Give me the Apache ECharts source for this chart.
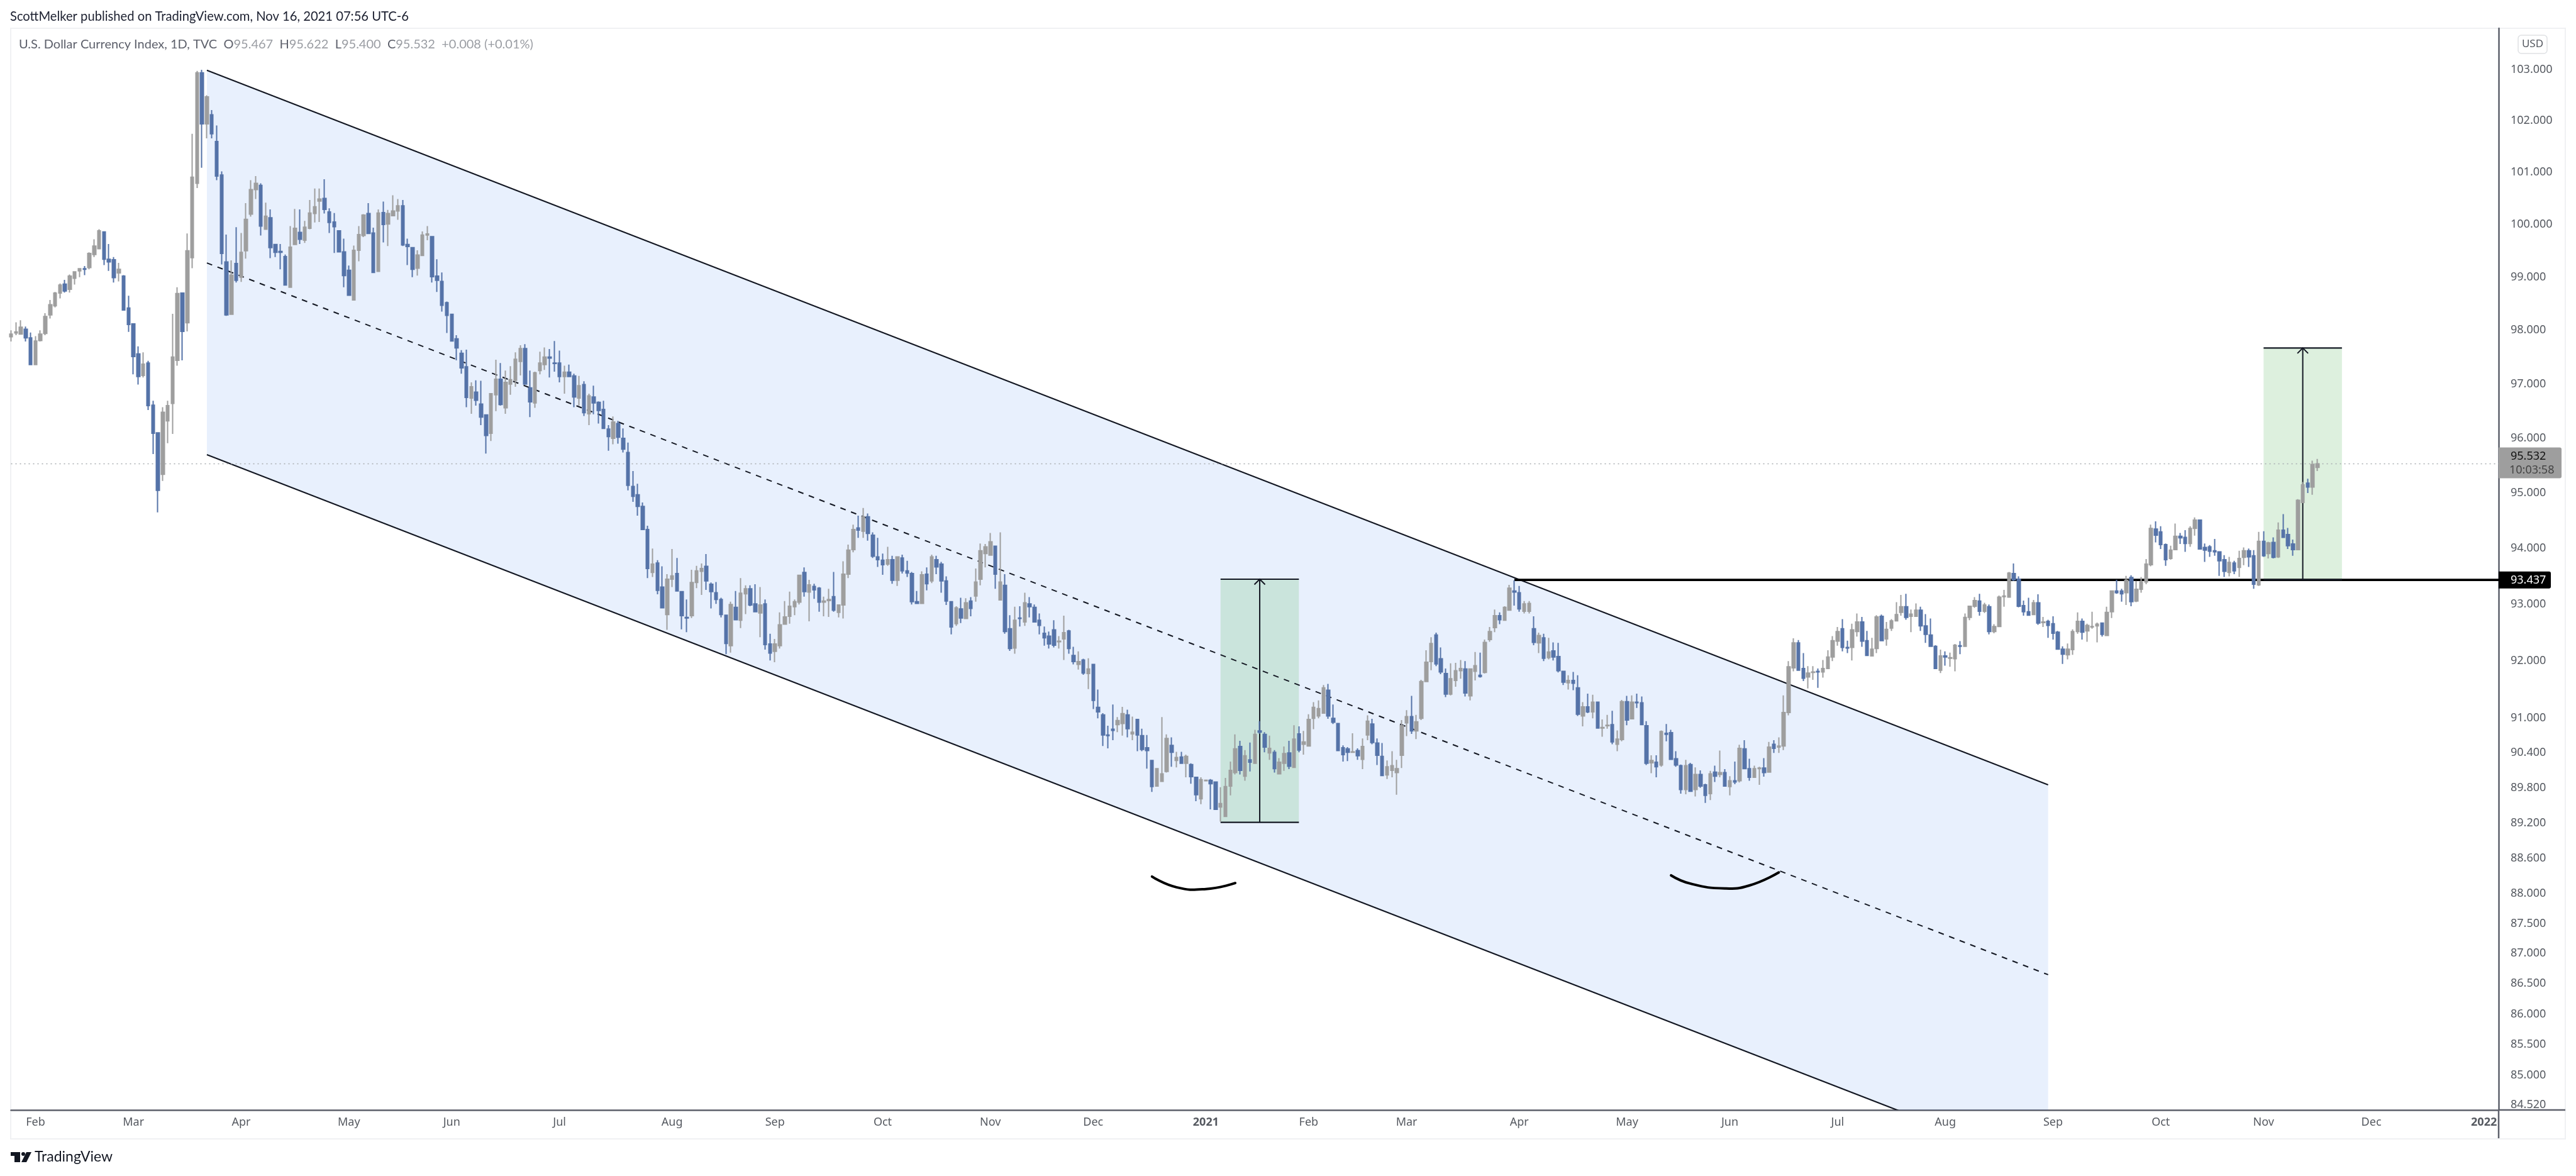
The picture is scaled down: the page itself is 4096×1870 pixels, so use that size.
<!DOCTYPE html>
<html><head><meta charset="utf-8">
<style>html,body{margin:0;padding:0;background:#fff}#c{width:4096px;height:1870px}</style>
<script src="https://cdn.jsdelivr.net/npm/echarts@6/dist/echarts.min.js"></script>
</head><body><div id="c"></div>
<script>
// [open, close, low, high]
const candlesA=[[97.88,97.93,97.79,98.0],[97.95,97.97,97.91,98.15],[97.93,98.06,97.93,98.19],[98.02,97.86,97.79,98.07],[97.86,97.36,97.36,97.96],[97.36,97.80,97.36,97.89],[97.81,97.93,97.79,98.0],[97.94,98.26,97.91,98.32],[98.29,98.48,98.22,98.57],[98.46,98.70,98.43,98.72],
[98.70,98.85,98.60,98.88],[98.87,98.74,98.71,98.95],[98.77,99.02,98.71,99.05],[98.98,99.10,98.86,99.11],[99.12,99.16,99.0,99.17],[99.16,99.15,99.04,99.21],[99.18,99.45,99.15,99.47],[99.43,99.59,99.38,99.72],[99.54,99.88,99.54,99.91],[99.86,99.34,99.23,99.87],
[99.34,99.29,99.12,99.63],[99.33,98.99,98.90,99.38],[99.08,99.15,98.92,99.27],[99.02,98.38,98.37,99.04],[98.42,98.11,97.97,98.65],[98.12,97.51,97.18,98.12],[97.56,97.14,96.99,97.70],[97.16,97.37,97.12,97.59],[97.39,96.60,96.52,97.43],[96.61,96.09,95.71,96.69],
[96.10,95.05,94.65,96.10],[95.34,96.48,95.22,96.57],[96.32,96.60,95.91,96.69],[96.64,97.50,96.08,98.31],[97.44,98.69,97.34,98.81],[98.70,97.98,97.44,98.70],[98.14,99.50,97.98,99.83],[99.37,100.91,99.17,101.75],[100.79,102.94,100.70,102.98],[102.94,101.94,101.09,103.0],
[101.94,102.47,101.66,102.5],[102.12,101.75,101.66,102.21],[101.6,100.93,100.85,101.91],[100.95,99.45,99.24,101.02],[99.29,98.29,98.27,99.81],[98.30,99.04,98.30,99.32],[99.26,98.94,98.90,99.95],[99.0,99.47,98.91,99.84],[99.50,100.10,99.35,100.41],[100.20,100.67,100.15,100.85],
[100.67,100.79,100.49,100.93],[100.75,99.97,99.79,100.79],[99.91,100.16,99.91,100.42],[100.13,99.56,99.36,100.29],[99.62,99.47,99.38,99.63],[99.49,99.47,99.15,99.63],[99.39,98.85,98.84,99.43],[98.81,99.57,98.81,99.97],[99.62,99.93,99.62,100.30],[99.85,99.72,99.63,100.29],
[99.70,99.95,99.65,100.07],[99.93,100.22,99.91,100.47],[100.21,100.34,100.04,100.69],[100.45,100.49,100.05,100.69],[100.50,100.29,100.21,100.87],[100.24,100.04,99.84,100.31],[100.05,99.96,99.46,100.22],[99.88,99.48,99.47,99.88],[99.48,99.03,98.81,99.73],[99.13,98.66,98.66,99.22],
[98.57,99.51,98.57,99.60],[99.51,99.81,99.30,99.97],[99.79,100.18,99.76,100.20],[100.21,99.83,99.82,100.41],[99.84,99.09,99.09,99.94],[99.11,100.22,99.11,100.29],[100.23,100.0,99.66,100.44],[100.01,100.21,99.59,100.28],[100.17,100.26,100.16,100.56],[100.26,100.36,100.09,100.49]];
const candlesB=[[100.36,99.61,99.59,100.47],[99.62,99.58,99.23,99.73],[99.56,99.15,99.0,99.56],[99.17,99.42,99.03,99.51],[99.41,99.80,99.40,99.87],[99.80,99.82,99.70,99.97],[99.77,99.01,98.90,99.77],[99.02,98.94,98.72,99.34],[98.92,98.47,98.35,99.09],[98.52,98.28,97.95,98.54],
[98.30,97.80,97.79,98.31],[97.84,97.67,97.44,97.91],[97.57,97.30,97.19,97.63],[97.32,96.75,96.57,97.64],[96.74,96.95,96.45,97.03],[96.85,96.70,96.60,97.07],[96.63,96.39,96.24,97.06],[96.43,96.05,95.72,96.44],[96.09,96.82,95.95,96.82],[96.80,97.09,96.50,97.45],
[97.09,96.62,96.60,97.39],[96.56,97.03,96.45,97.25],[97.0,97.08,96.80,97.33],[97.07,97.46,96.95,97.59],[97.42,97.66,97.16,97.72],[97.66,97.0,97.0,97.74],[96.93,96.67,96.39,97.25],[96.65,97.21,96.56,97.23],[97.25,97.39,97.18,97.60],[97.36,97.50,97.26,97.68],
[97.50,97.48,97.12,97.65],[97.39,97.38,97.23,97.80],[97.39,97.14,97.03,97.62],[97.14,97.22,96.82,97.34],[97.22,97.14,97.14,97.36],[97.15,96.76,96.57,97.19],[96.74,96.97,96.60,97.15],[96.99,96.47,96.41,97.05],[96.45,96.78,96.24,96.82],[96.76,96.65,96.44,96.97],
[96.66,96.51,96.27,96.68],[96.53,96.18,96.18,96.69],[96.17,96.03,95.77,96.24],[96.0,96.30,95.89,96.40],[96.27,96.02,95.90,96.32],[96.0,95.80,95.74,96.18],[95.74,95.14,95.05,95.92],[95.12,94.94,94.84,95.40],[94.97,94.76,94.59,95.17],[94.76,94.34,94.34,94.83],
[94.34,93.64,93.47,94.41],[93.57,93.72,93.49,94.0],[93.74,93.25,93.18,93.79],[93.31,92.94,92.93,93.68],[92.82,93.45,92.55,93.54],[93.45,93.51,93.31,93.99],[93.55,93.24,93.23,93.83],[93.23,92.80,92.56,93.24],[92.77,92.76,92.51,93.09],[92.80,93.39,92.76,93.62],
[93.39,93.60,93.29,93.69],[93.59,93.64,93.17,93.73],[93.68,93.42,93.26,93.90],[93.36,93.23,92.93,93.39],[93.21,93.09,93.01,93.40],[93.09,92.82,92.77,93.12],[92.81,92.31,92.12,92.81],[92.27,93.0,92.15,93.05],[92.95,92.73,92.72,93.24],[92.72,93.20,92.58,93.47],
[93.19,93.28,92.83,93.34],[93.28,92.99,92.97,93.34],[93.01,92.87,92.86,93.36],[92.85,92.99,92.42,93.31],[93.01,92.29,92.20,93.09],[92.30,92.14,92.01,92.48],[92.17,92.30,91.98,92.39],[92.27,92.64,92.22,92.86],[92.65,92.78,92.64,93.06],[92.79,92.97,92.66,93.23]];
const candlesC=[[92.96,93.05,92.81,93.09],[93.04,93.52,93.0,93.52],[93.57,93.23,93.14,93.66],[93.22,93.35,92.70,93.44],[93.32,93.26,93.10,93.37],[93.29,93.04,92.87,93.31],[93.04,93.06,92.79,93.14],[93.07,93.09,92.78,93.28],[93.14,92.90,92.87,93.58],[92.86,92.99,92.77,92.99],
[92.99,93.54,92.75,93.77],[93.54,93.97,93.47,94.07],[93.98,94.34,93.93,94.43],[94.37,94.33,94.19,94.59],[94.31,94.57,94.19,94.73],[94.57,94.27,94.14,94.63],[94.24,93.86,93.83,94.29],[93.85,93.80,93.67,94.19],[93.79,93.71,93.53,93.91],[93.72,93.80,93.69,94.03],
[93.80,93.43,93.37,93.87],[93.43,93.85,93.33,93.85],[93.83,93.60,93.55,93.89],[93.60,93.56,93.49,93.78],[93.55,93.05,93.0,93.58],[93.05,93.02,93.02,93.24],[93.02,93.53,93.02,93.59],[93.54,93.37,93.25,93.66],[93.42,93.85,93.38,93.89],[93.80,93.67,93.54,93.87],
[93.72,93.42,93.21,93.76],[93.42,93.06,92.99,93.50],[93.05,92.60,92.47,93.06],[92.66,92.94,92.62,92.97],[92.92,92.76,92.67,93.12],[92.75,93.03,92.74,93.11],[93.06,92.93,92.79,93.13],[93.15,93.40,93.05,93.64],[93.45,93.96,93.34,94.09],[93.91,94.03,93.66,94.08],
[93.88,94.12,93.88,94.28],[94.04,93.54,93.28,94.04],[93.08,93.40,93.08,94.29],[93.34,92.52,92.48,93.54],[92.57,92.22,92.18,92.81],[92.23,92.72,92.13,92.96],[92.76,92.75,92.61,92.97],[92.69,93.03,92.62,93.21],[93.01,92.96,92.77,93.13],[92.95,92.69,92.69,93.0],
[92.72,92.63,92.47,92.84],[92.49,92.41,92.27,92.61],[92.44,92.30,92.22,92.52],[92.55,92.28,92.24,92.72],[92.34,92.35,92.22,92.44],[92.39,92.50,92.02,92.80],[92.53,92.22,92.13,92.55],[92.10,91.99,91.94,92.25],[91.94,91.99,91.85,92.17],[92.02,91.79,91.76,92.04],
[91.78,91.86,91.51,92.05],[91.94,91.31,91.16,91.94],[91.19,91.11,91.0,91.50],[91.06,90.71,90.52,91.09],[90.71,90.70,90.48,90.87],[90.81,90.79,90.62,91.24],[90.89,90.96,90.76,91.02],[90.91,91.08,90.70,91.20],[91.06,90.82,90.67,91.15],[90.73,90.76,90.62,91.03],
[90.98,90.71,90.43,90.98],[90.70,90.46,90.43,90.82],[90.49,90.44,90.13,90.71],[90.27,89.82,89.73,90.27],[89.83,90.13,89.83,90.13],[89.91,90.04,89.91,91.02],[90.08,90.65,90.06,90.72],[90.53,90.41,90.16,90.67],[90.27,90.32,90.15,90.42],[90.33,90.22,90.22,90.42]];
const candlesD=[[90.22,90.34,89.98,90.37],[90.20,89.99,89.87,90.22],[89.98,89.68,89.57,89.98],[89.61,89.94,89.52,89.98],[89.92,89.93,89.92,89.93],[89.93,89.87,89.43,89.95],[89.90,89.43,89.43,89.90],[89.47,89.53,89.22,89.81],[89.31,89.82,89.31,89.97],[89.83,90.10,89.67,90.25],
[90.06,90.47,90.03,90.72],[90.51,90.10,90.03,90.61],[90.0,90.35,89.92,90.45],[90.28,90.24,90.08,90.58],[90.22,90.72,90.22,90.80],[90.78,90.76,90.73,90.95],[90.72,90.50,90.41,90.76],[90.40,90.48,90.28,90.70],[90.41,90.13,90.06,90.45],[90.04,90.24,90.04,90.31],
[90.22,90.39,90.09,90.51],[90.40,90.17,90.12,90.61],[90.15,90.64,90.15,90.88],[90.73,90.45,90.41,90.86],[90.55,90.59,90.37,90.78],[90.52,90.98,90.52,91.07],[91.0,91.19,90.81,91.28],[91.04,91.17,91.0,91.31],[91.09,91.53,91.09,91.58],[91.49,91.04,90.99,91.60],
[91.0,90.93,90.90,91.24],[90.91,90.44,90.44,90.92],[90.49,90.37,90.25,90.53],[90.47,90.41,90.26,90.50],[90.41,90.42,90.40,90.74],[90.44,90.35,90.28,90.48],[90.29,90.51,90.12,90.65],[90.71,90.95,90.62,91.05],[90.90,90.58,90.55,90.99],[90.57,90.36,90.19,90.65],
[90.34,90.01,90.01,90.57],[90.02,90.16,89.95,90.27],[90.10,90.18,89.98,90.43],[90.06,90.13,89.68,90.28],[90.36,90.87,90.14,90.97],[90.92,91.03,90.69,91.14],[91.03,90.78,90.73,91.39],[90.78,90.94,90.64,91.06],[91.0,91.64,90.97,91.67],[91.64,91.98,91.64,92.19],
[91.99,92.31,91.84,92.42],[92.46,91.95,91.91,92.50],[92.04,91.81,91.77,92.24],[91.78,91.42,91.37,91.87],[91.42,91.69,91.40,91.96],[91.66,91.83,91.55,91.97],[91.83,91.87,91.69,92.02],[91.86,91.44,91.38,92.0],[91.39,91.86,91.31,91.87],[91.82,91.92,91.66,92.16],
[91.75,91.73,91.71,92.15],[91.80,92.33,91.78,92.38],[92.38,92.52,92.34,92.60],[92.59,92.80,92.51,92.91],[92.80,92.73,92.65,92.86],[92.72,92.95,92.72,92.97],[92.90,93.29,92.89,93.35],[93.24,93.22,92.98,93.43],[93.21,92.92,92.87,93.33],[92.88,93.01,92.84,93.06],
[92.88,93.02,92.84,93.06],[92.57,92.33,92.28,92.79],[92.32,92.45,92.14,92.50],[92.41,92.05,92.0,92.48],[92.06,92.16,92.03,92.41],[92.18,92.07,92.01,92.33],[92.08,91.83,91.80,92.32],[91.82,91.63,91.58,91.82],[91.62,91.66,91.50,91.75],[91.66,91.61,91.49,91.81]];
const candlesE=[[91.53,91.07,91.04,91.75],[91.04,91.20,90.86,91.28],[91.20,91.11,91.09,91.43],[91.11,91.28,91.0,91.41],[91.28,90.83,90.82,91.29],[90.83,90.84,90.68,90.98],[90.87,90.88,90.82,91.06],[90.89,90.59,90.55,91.13],[90.55,90.64,90.43,90.79],[90.63,91.29,90.60,91.32],
[91.29,90.97,90.88,91.39],[90.99,91.28,90.98,91.40],[91.28,91.27,91.18,91.43],[91.27,90.89,90.88,91.38],[90.87,90.22,90.19,90.95],[90.23,90.27,90.05,90.36],[90.24,90.16,89.98,90.36],[90.19,90.77,90.16,90.79],[90.74,90.72,90.60,90.90],[90.75,90.29,90.28,90.80],
[90.30,90.19,90.16,90.43],[90.18,89.77,89.70,90.20],[89.77,90.18,89.69,90.28],[90.20,89.74,89.74,90.23],[89.77,90.03,89.65,90.15],[90.03,89.83,89.80,90.10],[89.85,89.67,89.54,89.87],[89.70,90.04,89.59,90.09],[90.07,90.0,89.90,90.18],[90.03,90.06,89.98,90.44],
[90.06,89.83,89.82,90.12],[89.82,89.92,89.67,90.0],[89.92,89.90,89.86,90.25],[89.92,90.48,89.89,90.54],[90.47,90.13,90.12,90.62],[90.13,89.98,89.92,90.30],[89.98,90.13,89.97,90.18],[90.13,90.14,89.85,90.16],[90.14,90.06,89.99,90.31],[90.07,90.50,90.07,90.59],
[90.55,90.48,90.40,90.62],[90.50,90.52,90.40,90.67],[90.52,91.10,90.45,91.40],[91.10,91.90,91.05,92.0],[91.88,92.32,91.82,92.40],[92.32,91.84,91.83,92.37],[91.87,91.70,91.65,92.14],[91.72,91.79,91.52,91.91],[91.80,91.81,91.67,91.91],[91.82,91.81,91.53,91.87],
[91.81,91.87,91.71,92.02],[91.87,92.07,91.86,92.19],[92.07,92.36,92.0,92.44],[92.35,92.52,92.27,92.60],[92.57,92.24,92.17,92.74],[92.24,92.23,92.14,92.36],[92.24,92.55,92.01,92.66],[92.52,92.69,92.43,92.84],[92.69,92.35,92.25,92.78],[92.36,92.10,92.09,92.53],
[92.09,92.21,92.08,92.41],[92.22,92.78,92.14,92.81],[92.79,92.36,92.35,92.82],[92.39,92.56,92.27,92.69],[92.58,92.71,92.53,92.74],[92.71,92.82,92.70,93.04],[92.86,92.96,92.80,93.17],[92.96,92.77,92.73,93.19],[92.79,92.83,92.51,92.91],[92.79,92.90,92.78,93.02],
[92.90,92.62,92.53,92.96],[92.62,92.47,92.32,92.83],[92.46,92.26,92.25,92.75],[92.26,91.87,91.86,92.28],[91.84,92.09,91.79,92.20],[92.09,92.07,91.92,92.17],[92.05,92.06,91.90,92.15],[92.04,92.28,91.82,92.30],[92.27,92.26,92.12,92.35],[92.26,92.77,92.26,92.84]];
const candlesF=[[92.77,92.97,92.72,92.98],[92.97,93.07,92.94,93.13],[93.06,92.88,92.80,93.19],[92.88,92.99,92.85,93.03],[92.96,92.52,92.47,93.0],[92.52,92.61,92.49,92.65],[92.61,93.13,92.61,93.16],[93.14,93.15,92.96,93.26],[93.13,93.56,93.13,93.58],[93.55,93.44,93.42,93.73],
[93.45,92.97,92.95,93.50],[92.98,92.87,92.80,93.07],[92.87,92.81,92.81,93.12],[92.82,93.03,92.81,93.08],[93.03,92.67,92.64,93.18],[92.68,92.69,92.60,92.78],[92.70,92.63,92.41,92.73],[92.66,92.49,92.38,92.79],[92.51,92.21,92.21,92.53],[92.21,92.12,91.95,92.26],
[92.11,92.21,92.03,92.31],[92.20,92.52,92.11,92.56],[92.52,92.70,92.48,92.86],[92.70,92.51,92.38,92.75],[92.53,92.63,92.34,92.66],[92.60,92.61,92.57,92.87],[92.62,92.65,92.33,92.68],[92.67,92.47,92.43,92.67],[92.45,92.86,92.45,92.96],[92.87,93.24,92.76,93.24],
[93.24,93.21,93.19,93.44],[93.24,93.19,93.05,93.28],[93.21,93.43,92.99,93.51],[93.48,93.05,92.97,93.52],[93.06,93.27,93.04,93.42],[93.27,93.40,93.21,93.49],[93.40,93.72,93.36,93.81],[93.71,94.36,93.68,94.43],[94.35,94.24,94.11,94.49],[94.30,94.07,93.99,94.40],
[94.07,93.80,93.69,94.09],[93.82,93.97,93.80,94.05],[93.98,94.22,93.98,94.45],[94.22,94.19,94.08,94.28],[94.20,94.09,93.94,94.33],[94.09,94.36,94.03,94.40],[94.36,94.51,94.23,94.56],[94.51,93.99,93.99,94.51],[94.02,93.97,93.76,94.09],[94.03,93.95,93.85,94.06],
[93.96,93.94,93.87,94.17],[93.94,93.78,93.51,93.95],[93.80,93.59,93.49,93.88],[93.57,93.75,93.50,93.85],[93.74,93.60,93.54,93.78],[93.66,93.82,93.49,93.96],[93.84,93.96,93.70,94.02],[93.96,93.85,93.67,94.0],[93.87,93.36,93.28,93.97],[93.35,94.13,93.33,94.30],
[94.13,93.87,93.85,94.31],[93.91,94.10,93.82,94.12],[94.11,93.84,93.82,94.20],[93.85,94.33,93.83,94.47],[94.33,94.20,94.19,94.62],[94.25,94.05,93.99,94.37],[94.08,93.98,93.87,94.16],[93.98,94.87,93.97,94.89],[94.83,95.15,94.83,95.20],[95.18,95.11,95.0,95.26],
[95.11,95.52,94.97,95.59],[95.467,95.532,95.40,95.622]];

const monthNames=['Jan','Feb','Mar','Apr','May','Jun','Jul','Aug','Sep','Oct','Nov','Dec'];
const priceTicks=[103,102,101,100,99,98,97,96,95,94,93,92,91,90.4,89.8,89.2,88.6,88,87.5,87,86.5,86,85.5,85,84.52];
const channelTop=[[40,102.99],[416,89.85]];
const channelMid=[[40,99.27],[416,86.65]];
const channelBottom=[[40,95.70],[416,83.5]];
const boxOne=[247,263,89.21,93.45], arrowOneAt=255;
const boxTwo=[460,476,93.44,97.67], arrowTwoAt=468;
const resistance=[[307,93.437],[508,93.437]];
const lastPrice=95.532, lastCountdown='10:03:58', resistanceLabel=93.437;
const arcOne=[[233,88.29],[238,88.11],[243.5,88.08],[250,88.18]];
const arcTwo=[[338.6,88.31],[343.3,88.17],[350,88.09],[355.1,88.14],[360.7,88.36]];

const candles=[].concat(candlesA,candlesB,candlesC,candlesD,candlesE,candlesF);
const categories=[];
for(let d=new Date(Date.UTC(2020,0,27));categories.length<509;d=new Date(d.getTime()+864e5)){
  const w=d.getUTCDay(); if(w===0||w===6) continue;
  categories.push(d.toISOString().slice(0,10));
}
const firstOfMonth=i=>i>0&&categories[i].slice(0,7)!==categories[i-1].slice(0,7);
const AX='#5d606b', TXT='#555960', BLK='#131722';
const chart=echarts.init(document.getElementById('c'),null,{renderer:'canvas',width:4096,height:1870});

function annotations(params,api){
  const P=p=>api.coord(p);
  const line=(pts,w,extra)=>({type:'polyline',shape:{points:pts.map(P),smooth:(extra&&extra.smooth)||0},style:Object.assign({stroke:BLK,lineWidth:w,fill:null},extra&&extra.style)});
  const box=(b,fill)=>{const a=P([b[0],b[3]]),c=P([b[1],b[2]]);return {type:'rect',shape:{x:a[0],y:a[1],width:c[0]-a[0],height:c[1]-a[1]},style:{fill:fill}};};
  const arrow=(x,lo,hi)=>{const t=P([x,hi]);return {type:'polyline',shape:{points:[[t[0]-8.5,t[1]+8.5],t,[t[0]+8.5,t[1]+8.5]]},style:{stroke:BLK,lineWidth:2,fill:null}};};
  const poly=[channelTop[0],channelTop[1],channelBottom[1],channelBottom[0]].map(P);
  return {type:'group',children:[
    {type:'polygon',shape:{points:poly},style:{fill:'rgba(30,110,240,0.1)'}},
    box(boxOne,'rgba(76,175,80,0.19)'),box(boxTwo,'rgba(76,175,80,0.19)'),
    line(channelTop,2.2),line(channelBottom,2.2),
    line(channelMid,2,{style:{lineDash:[9,9]}}),
    line([[0,lastPrice],[508,lastPrice]],1.5,{style:{stroke:'#a8abb0',lineDash:[2,5]}}),
    line(resistance,3.6,{style:{stroke:'#000'}}),
    line([[boxOne[0],boxOne[3]],[boxOne[1],boxOne[3]]],2.2),line([[boxOne[0],boxOne[2]],[boxOne[1],boxOne[2]]],2.2),
    line([[boxTwo[0],boxTwo[3]],[boxTwo[1],boxTwo[3]]],2.2),line([[boxTwo[0],boxTwo[2]],[boxTwo[1],boxTwo[2]]],2.2),
    line([[arrowOneAt,boxOne[2]],[arrowOneAt,boxOne[3]]],2),arrow(arrowOneAt,boxOne[2],boxOne[3]),
    line([[arrowTwoAt,boxTwo[2]],[arrowTwoAt,boxTwo[3]]],2),arrow(arrowTwoAt,boxTwo[2],boxTwo[3]),
    line(arcOne,4,{smooth:0.5,style:{stroke:'#000',lineCap:'round'}}),
    line(arcTwo,4,{smooth:0.5,style:{stroke:'#000',lineCap:'round'}})
  ]};
}
function priceTags(params,api){
  const tag=(price,w,h,bg,fg,t2)=>{const p=api.coord([508,price]);const top=p[1]-(t2?26:13.5);
    const kids=[{type:'rect',shape:{x:p[0],y:top,width:w,height:h,r:[0,3,3,0]},style:{fill:bg}},
      {type:'text',x:p[0]+19,y:top+14,style:{text:price.toFixed(3),fill:fg,font:'18px "Noto Sans"',textVerticalAlign:'middle'}}];
    if(t2)kids.push({type:'text',x:p[0]+17,y:top+36,style:{text:t2,fill:'#444',font:'18px "Noto Sans"',textVerticalAlign:'middle'}});
    return kids;};
  return {type:'group',children:tag(lastPrice,100,49,'#9e9e9e','#111',lastCountdown).concat(tag(resistanceLabel,83,27,'#000','#fff'))};
}
chart.setOption({
  animation:false,backgroundColor:'#fff',
  grid:{left:17.5,right:123,top:45,bottom:105,containLabel:false,show:false},
  xAxis:{type:'category',data:categories,boundaryGap:false,position:'bottom',
    axisLine:{show:true,lineStyle:{color:AX,width:2.5}},axisTick:{show:false},splitLine:{show:false},
    axisLabel:{margin:11,fontFamily:'Noto Sans',fontSize:18,color:TXT,hideOverlap:false,
      interval:(i)=>firstOfMonth(i),
      formatter:(v)=>{const m=+v.slice(5,7)-1;return m===0?'{b|'+v.slice(0,4)+'}':monthNames[m];},
      rich:{b:{fontWeight:'bold',fontFamily:'Noto Sans',fontSize:18,color:TXT}}}},
  yAxis:{type:'log',logBase:10,min:84.44,max:103.82,position:'right',scale:true,
    axisLine:{show:true,lineStyle:{color:AX,width:2.5}},axisTick:{show:false},splitLine:{show:false},minorTick:{show:false},
    axisLabel:{margin:19,fontFamily:'Noto Sans',fontSize:18,color:TXT,customValues:priceTicks,showMinLabel:true,showMaxLabel:true,
      formatter:(v)=>(+v).toFixed(3)}},
  series:[
    {type:'custom',name:'annotations',z:1,clip:true,data:[[0,95]],renderItem:annotations,silent:true},
    {type:'candlestick',name:'DXY',z:3,data:candles,barWidth:5,clip:true,
      itemStyle:{color:'#9e9e9e',color0:'#5573a8',borderColor:'#9e9e9e',borderColor0:'#5573a8',borderWidth:2}},
    {type:'custom',name:'tags',z:5,clip:false,data:[[0,95]],renderItem:priceTags,silent:true}
  ],
  graphic:{elements:[
    {type:'rect',z:-1,shape:{x:17,y:45,width:4062,height:1766},style:{fill:'none',stroke:'#f0f1f3',lineWidth:2}},
    {type:'line',z:10,shape:{x1:3973,y1:1765,x2:4079,y2:1765},style:{stroke:AX,lineWidth:2.5}},
    {type:'line',z:10,shape:{x1:3973,y1:1765,x2:3973,y2:1810},style:{stroke:AX,lineWidth:2.5}},
    {type:'text',x:16,y:26,style:{text:'ScottMelker published on TradingView.com, Nov 16, 2021 07:56 UTC-6',fill:'#1c2030',font:'20.2px Lato',textVerticalAlign:'middle'}},
    {type:'text',x:30,y:71,style:{rich:{a:{fill:'#5d606b',font:'20px Lato'},g:{fill:'#9a9da3',font:'20px Lato'}},
      text:'{a|U.S. Dollar Currency Index, 1D, TVC}{g|  }{a|O}{g|95.467  }{a|H}{g|95.622  }{a|L}{g|95.400  }{a|C}{g|95.532  +0.008 (+0.01%)}',textVerticalAlign:'middle'}},
    {type:'rect',shape:{x:4004,y:56,width:46,height:29,r:5},style:{fill:'#fff',stroke:'#dfe1e4',lineWidth:1.5}},
    {type:'text',x:4027,y:70.5,style:{text:'USD',fill:'#555960',font:'17px "Noto Sans"',textAlign:'center',textVerticalAlign:'middle'}},
    {type:'rect',shape:{x:17,y:1832,width:15,height:6},style:{fill:BLK}},
    {type:'rect',shape:{x:23,y:1832,width:9,height:16},style:{fill:BLK}},
    {type:'circle',shape:{cx:37,cy:1835,r:3},style:{fill:BLK}},
    {type:'polygon',shape:{points:[[42,1832],[50,1832],[42,1848],[34,1848]]},style:{fill:BLK}},
    {type:'text',x:55,y:1840,style:{text:'TradingView',fill:BLK,font:'23px Lato',textVerticalAlign:'middle'}}
  ]}
});
</script></body></html>
